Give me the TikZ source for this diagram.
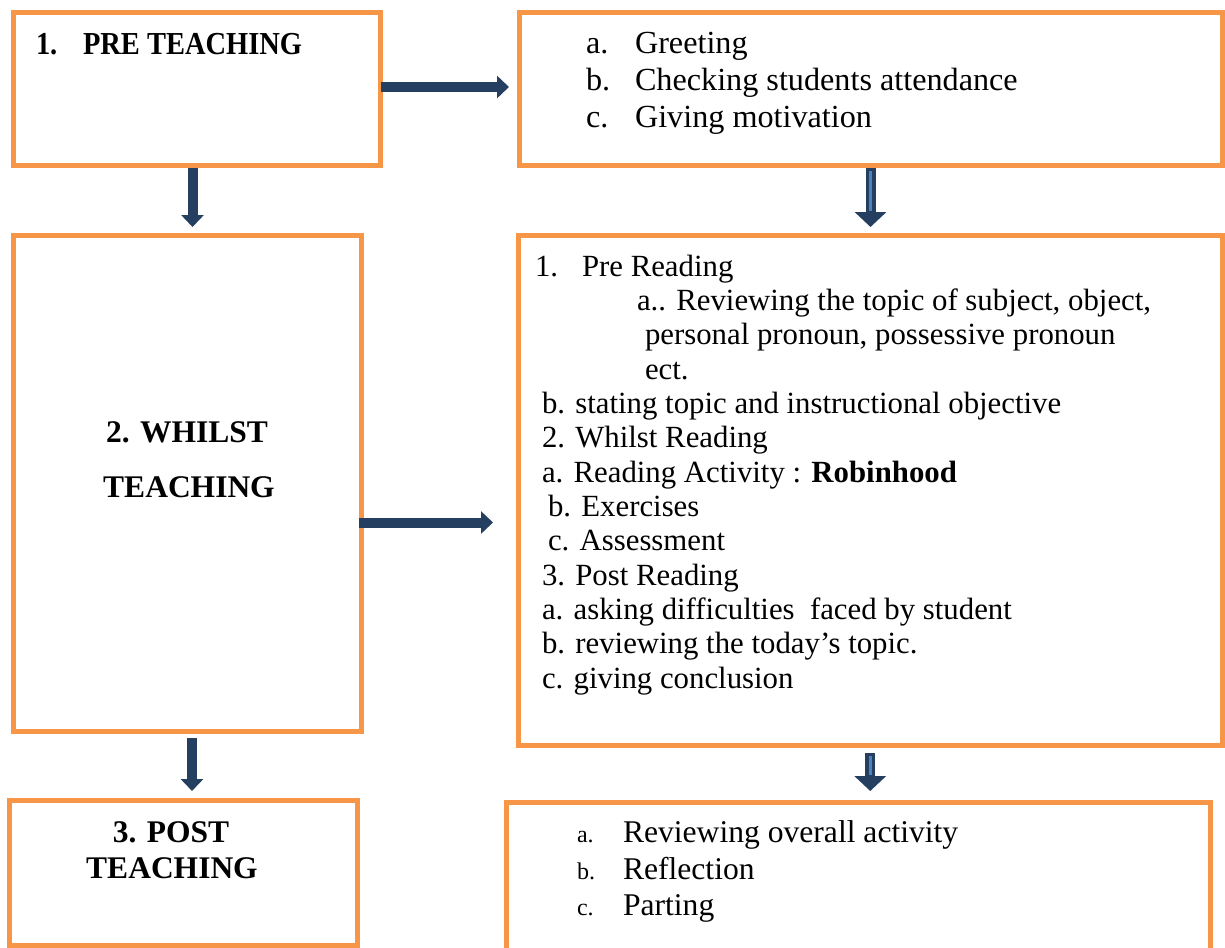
\documentclass[tikz,border=0pt]{standalone}
\usepackage{fontspec}
\setmainfont{Liberation Serif}
\usetikzlibrary{arrows.meta}
\definecolor{boxorange}{HTML}{F79646}
\definecolor{navy}{HTML}{243F60}
\definecolor{lightnavy}{HTML}{4F81BD}
\begin{document}
\begin{tikzpicture}[x=1pt,y=-1pt,
  box/.style={draw=boxorange, line width=5pt, inner sep=0pt, outer sep=0pt},
  txt/.style={anchor=base west, inner sep=0pt, outer sep=0pt},
  greet/.style={txt, font=\fontsize{32.2}{36}\selectfont},
  mid/.style={txt, font=\fontsize{30.8}{34}\selectfont},
  endlbl/.style={txt, font=\fontsize{24}{28}\selectfont},
  enditem/.style={txt, font=\fontsize{31.6}{36}\selectfont},
  title/.style={anchor=base, inner sep=0pt, outer sep=0pt, font=\fontsize{31.5}{34}\selectfont\bfseries},
  blockarrow/.style={navy, line width=10pt, -{Triangle[width=22pt,length=12pt]}},
  widearrow/.style={navy, line width=10pt, -{Triangle[width=31pt,length=15pt]}},
  stripe/.style={lightnavy, line width=2.5pt}]
\useasboundingbox (0,0) rectangle (1225,947);
\fill[white] (0,0) rectangle (1225,947);
\clip (0,0) rectangle (1225,947);

% boxes
\node[box, minimum width=367pt, minimum height=153pt] (b1) at (197,89) {};
\node[box, minimum width=703pt, minimum height=153pt] (b2) at (870.5,89) {};
\node[box, minimum width=348pt, minimum height=495.5pt] (b3) at (187.5,483.25) {};
\node[box, minimum width=703.5pt, minimum height=510pt] (b4) at (870.25,490.5) {};
\node[box, minimum width=348pt, minimum height=145pt] (b5) at (183.5,873) {};
\node[box, minimum width=704pt, minimum height=195pt] (b6) at (858,900) {};

% box 1 title
\node[txt, font=\fontsize{32}{34}\selectfont\bfseries] (t1a) at (36,55) {\scalebox{0.89}[1]{1.}};
\node[txt, font=\fontsize{32}{34}\selectfont\bfseries] (t1b) at (83,55) {\scalebox{0.89}[1]{PRE TEACHING}};

% box 2 list
\node[greet] (g1l) at (586,54) {a.};
\node[greet] (g1) at (635,54) {Greeting};
\node[greet] (g2l) at (586,91) {b.};
\node[greet] (g2) at (635,91) {Checking students attendance};
\node[greet] (g3l) at (586,128) {c.};
\node[greet] (g3) at (635,128) {Giving motivation};

% box 3 title
\node[title] (t3a) at (187,442) {2. WHILST};
\node[title] (t3b) at (189,497) {TEACHING};

% box 4 lines
\node[mid] (m1l) at (535,276) {1.};
\node[mid] (m1) at (582,276) {Pre Reading};
\node[mid] (m2) at (637,310.3) {a.. Reviewing the topic of subject, object,};
\node[mid] (m3) at (645,344.7) {personal pronoun, possessive pronoun};
\node[mid] (m4) at (645,379) {ect.};
\node[mid] (m5) at (542,413.3) {b. stating topic and instructional objective};
\node[mid] (m6) at (542,447.7) {2. Whilst Reading};
\node[mid] (m7) at (542,482) {a. Reading Activity : \textbf{Robinhood}};
\node[mid] (m8) at (548,516.3) {b. Exercises};
\node[mid] (m9) at (548,550.7) {c. Assessment};
\node[mid] (m10) at (542,585) {3. Post Reading};
\node[mid] (m11) at (542,619.3) {a. asking difficulties\ \ faced by student};
\node[mid] (m12) at (542,653.7) {b. reviewing the today’s topic.};
\node[mid] (m13) at (542,688) {c. giving conclusion};

% box 5 title
\node[title] (t5a) at (171,842) {3. POST};
\node[title] (t5b) at (172,878) {TEACHING};

% box 6 list
\node[endlbl] (e1l) at (577,842) {a.};
\node[enditem] (e1) at (623,842) {Reviewing overall activity};
\node[endlbl] (e2l) at (577,879) {b.};
\node[enditem] (e2) at (623,879) {Reflection};
\node[endlbl] (e3l) at (577,915) {c.};
\node[enditem] (e3) at (623,915) {Parting};

% arrows
\draw[blockarrow, shorten >=10pt] ([yshift=2pt]b1.east) -- ([yshift=2pt]b1.east -| b2.west);
\draw[blockarrow, shorten <=2.5pt, shorten >=8.5pt] ([xshift=-4.5pt]b1.south) -- ([xshift=-4.5pt]b1.south |- b3.north);
\draw[widearrow, shorten <=2.5pt, shorten >=8.5pt] (b2.south) -- (b2.south |- b4.north);
\draw[stripe, shorten <=5.5pt, shorten >=24.5pt] (b2.south) -- (b2.south |- b4.north);
\draw[blockarrow, shorten <=-2.5pt, shorten >=25.5pt] ([yshift=-39.25pt]b3.east) -- ([yshift=-39.25pt]b3.east -| b4.west);
\draw[blockarrow, shorten <=7pt, shorten >=9.5pt] ([xshift=4.5pt]b3.south) -- ([xshift=4.5pt]b3.south |- b5.north);
\draw[widearrow, shorten <=7.5pt, shorten >=11.5pt] (b4.south) -- (b4.south |- b6.north);
\draw[stripe, shorten <=10.5pt, shorten >=27.5pt] (b4.south) -- (b4.south |- b6.north);
\end{tikzpicture}
\end{document}
